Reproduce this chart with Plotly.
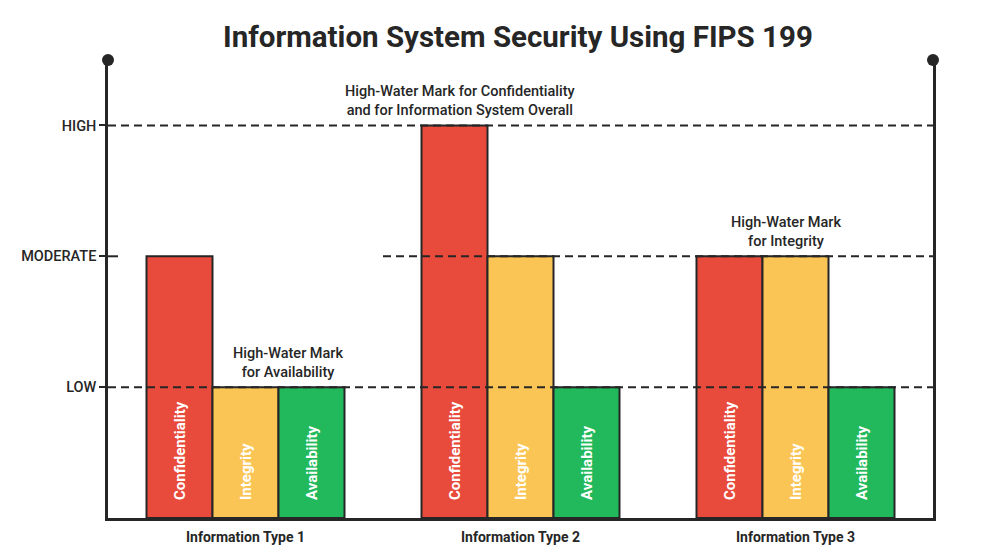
import plotly.graph_objects as go

# ---- data ----
info_types = ["Information Type 1", "Information Type 2", "Information Type 3"]
objectives = ["Confidentiality", "Integrity", "Availability"]
confidentiality = [2, 3, 2]
integrity = [1, 2, 2]
availability = [1, 1, 1]
level_values = [1, 2, 3]
level_labels = ["LOW", "MODERATE", "HIGH"]
title_text = "Information System Security Using FIPS 199"
hwm_texts = [
    "High-Water Mark<br>for Availability",
    "High-Water Mark for Confidentiality<br>and for Information System Overall",
    "High-Water Mark<br>for Integrity",
]
hwm_levels = [1, 3, 2]

# ---- style ----
colors = ["#E84B3C", "#FBC556", "#21B95C"]
dark = "#262626"
font_family = "Roboto, Arial, sans-serif"
bargap = 0.28
bar_w = (1 - bargap) / 3
note_x_offsets = [0.153, -0.218, -0.033]

fig = go.Figure()
series = [confidentiality, integrity, availability]
for name, vals, col in zip(objectives, series, colors):
    fig.add_trace(go.Bar(
        x=info_types, y=vals, name=name,
        marker=dict(color=col, line=dict(color=dark, width=2)),
        hoverinfo="x+y+name",
    ))

annotations = []
# vertical labels inside bars
for i, name in enumerate(objectives):
    for j, _ in enumerate(info_types):
        annotations.append(dict(
            x=j + (i - 1) * bar_w, y=0.122, xref="x", yref="y",
            text=name, textangle=-90, showarrow=False,
            xanchor="center", yanchor="bottom",
            font=dict(family=font_family, size=15, color="white", weight="bold"),
        ))

# high-water mark notes
for j, (text, lvl) in enumerate(zip(hwm_texts, hwm_levels)):
    annotations.append(dict(
        x=j + note_x_offsets[j], y=lvl, xref="x", yref="y", text=text, showarrow=False,
        xanchor="center", yanchor="bottom", yshift=4,
        font=dict(family=font_family, size=14.5, color=dark, weight=500),
    ))

shapes = []
# dashed level lines
for lvl, x0 in zip(level_values, [-0.5, 0.5, -0.5]):
    shapes.append(dict(type="line", xref="x", yref="y", x0=x0, x1=2.5, y0=lvl, y1=lvl,
                       line=dict(color=dark, width=2, dash="8px,5px"), layer="above"))
# inner tick segment for MODERATE
shapes.append(dict(type="line", xref="x", yref="y", x0=-0.5, x1=-0.5 + 10 / 275, y0=2, y1=2,
                   line=dict(color=dark, width=2), layer="above"))
# dots at axis tops
for xp in [0, 1]:
    shapes.append(dict(type="circle", xref="paper", yref="paper", xsizemode="pixel",
                       ysizemode="pixel", xanchor=xp, yanchor=1, x0=-6, x1=6, y0=-6, y1=6,
                       fillcolor=dark, line=dict(color=dark, width=0)))

fig.update_layout(
    width=1000, height=560,
    margin=dict(l=100, r=75, t=52, b=50),
    paper_bgcolor="white", plot_bgcolor="white",
    barmode="group", bargap=bargap, bargroupgap=0,
    showlegend=False,
    title=dict(text=title_text, x=0.51, xanchor="center", y=1 - 29 / 560, yanchor="middle",
               font=dict(family=font_family, size=29.5, color=dark, weight="bold")),
    annotations=annotations, shapes=shapes,
    xaxis=dict(type="category", range=[-0.5, 2.5], showgrid=False, showline=True,
               linecolor=dark, linewidth=2.5, ticks="", zeroline=False, ticklabelstandoff=4,
               tickfont=dict(family=font_family, size=14, color=dark, weight="bold")),
    yaxis=dict(range=[0, 3.5], showgrid=False, showline=True, mirror=True,
               linecolor=dark, linewidth=2.5, zeroline=False,
               tickvals=level_values, ticktext=level_labels,
               ticks="outside", ticklen=6, tickwidth=2, tickcolor=dark,
               tickfont=dict(family=font_family, size=14.5, color=dark, weight=500)),
)

fig.write_html("out.html")
